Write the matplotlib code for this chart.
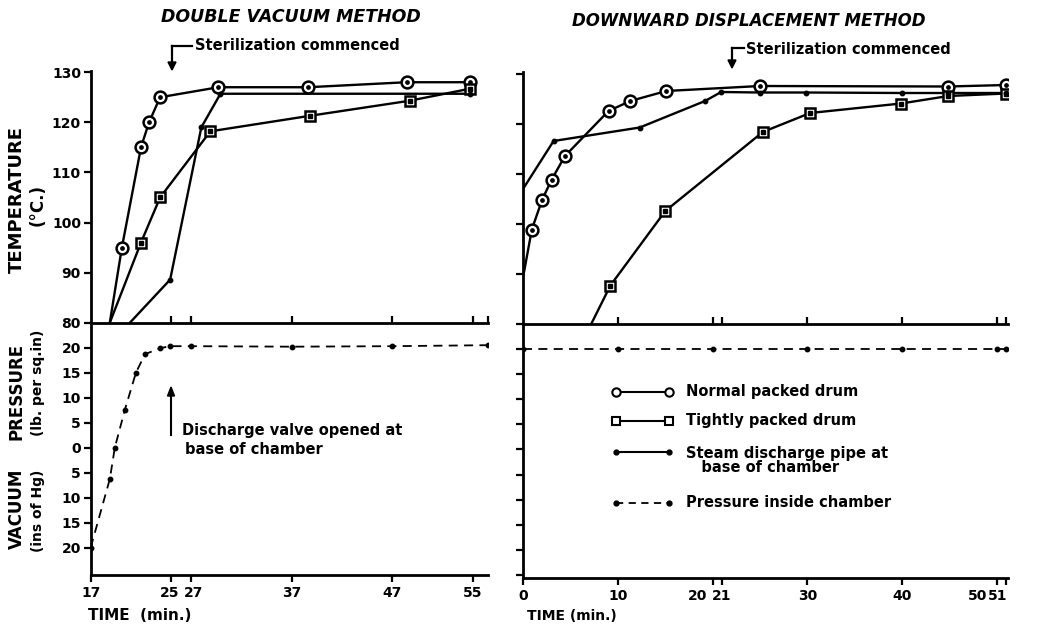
import matplotlib
matplotlib.use("Agg")
import matplotlib.pyplot as plt
from matplotlib.lines import Line2D
import matplotlib.transforms as mtrans

plt.rcParams['font.family'] = ['DejaVu Sans']
plt.rcParams['font.weight'] = 'bold'

W, H = 1049, 634

# ---------------- data ----------------
# Double vacuum method
dv_normal_t = [18.9, 20.1, 22.0, 22.8, 23.9, 29.7, 38.6, 48.4, 54.7]
dv_normal_T = [80, 95, 115, 120, 125, 127, 127, 128, 128]
dv_tight_t = [18.9, 22.0, 23.9, 28.9, 38.8, 48.7, 54.7]
dv_tight_T = [80, 96, 105, 118.2, 121.3, 124.3, 126.7]
dv_steam_t = [20.9, 24.9, 28.0, 29.9, 54.7]
dv_steam_T = [80, 88.6, 119, 125.7, 125.7]
dv_press_t = [17, 18.9, 19.4, 20.4, 21.5, 22.4, 23.9, 24.9, 27, 37, 47, 56.5]
dv_press_P = [-20, -6.3, 0, 7.6, 15, 18.7, 19.9, 20.3, 20.3, 20.2, 20.3, 20.5]

# Downward displacement method
dd_normal_t = [0, 0.9, 2.0, 3.0, 4.4, 9.0, 11.3, 15.1, 25.0, 44.9, 51.0]
dd_normal_T = [89.5, 98.8, 104.8, 108.8, 113.5, 122.5, 124.5, 126.5, 127.5, 127.4, 127.7]
dd_tight_t = [7.2, 9.2, 15.0, 25.3, 30.3, 39.9, 44.9, 51.0]
dd_tight_T = [80, 87.6, 102.5, 118.3, 122.1, 124.0, 125.5, 126.0]
dd_steam_t = [0, 3.2, 12.3, 19.2, 20.9, 25, 29.9, 40, 44.9, 51]
dd_steam_T = [107, 116.5, 119.2, 124.5, 126.3, 126.2, 126.2, 126.1, 126.1, 126.1]
dd_press_t = [0, 10, 20, 30, 40, 50, 51]
dd_press_P = [19.9, 19.9, 19.9, 19.9, 19.9, 19.9, 19.9]

temp_ticks = [80, 90, 100, 110, 120, 130]
press_ticks = [20, 15, 10, 5, 0, -5, -10, -15, -20]
press_labels = ['20', '15', '10', '5', '0', '5', '10', '15', '20']
dv_xticks = [17, 25, 27, 37, 47, 55]
dd_xticks = [0, 10, 20, 21, 30, 40, 50, 51]

titles = ['DOUBLE VACUUM METHOD', 'DOWNWARD DISPLACEMENT METHOD']
legend_labels = ['Normal packed drum', 'Tightly packed drum',
                 'Steam discharge pipe at\n   base of chamber', 'Pressure inside chamber']


def rect(x0, y0, x1, y1):
    return [x0 / W, 1 - y1 / H, (x1 - x0) / W, (y1 - y0) / H]


def P(x, y):
    return (x / W, 1 - y / H)


fig = plt.figure(figsize=(W / 100, H / 100), dpi=100)
fig.patch.set_facecolor('white')

ax_lt = fig.add_axes(rect(90.7, 70.7, 488, 322.7))
ax_lb = fig.add_axes(rect(90.7, 322.7, 488, 575))
ax_rt = fig.add_axes(rect(523.3, 72, 1008, 323.5))
ax_rb = fig.add_axes(rect(523.3, 323.5, 1008, 578))

LW = 1.7
FS = 10


def circ_line(ax, t, v):
    ax.plot(t, v, '-', color='black', lw=LW, zorder=3)
    ax.plot(t[1:], v[1:], 'o', ms=8.5, mfc='white', mec='black', mew=1.8, zorder=4)
    ax.plot(t[1:], v[1:], 'o', ms=2.4, color='black', zorder=5)


def sq_line(ax, t, v):
    ax.plot(t, v, '-', color='black', lw=LW, zorder=3)
    ax.plot(t[1:], v[1:], 's', ms=7.5, mfc='white', mec='black', mew=1.8, zorder=4)
    ax.plot(t[1:], v[1:], 's', ms=2.4, color='black', zorder=5)


def dot_line(ax, t, v):
    ax.plot(t, v, '-', color='black', lw=LW, zorder=3)
    ax.plot(t[1:], v[1:], 'o', ms=3.2, color='black', zorder=4)


# left top
circ_line(ax_lt, dv_normal_t, dv_normal_T)
sq_line(ax_lt, dv_tight_t, dv_tight_T)
dot_line(ax_lt, dv_steam_t, dv_steam_T)
ax_lt.set_xlim(17, 56.5)
ax_lt.set_ylim(80, 130.3)

# right top
circ_line(ax_rt, dd_normal_t, dd_normal_T)
sq_line(ax_rt, dd_tight_t, dd_tight_T)
dot_line(ax_rt, dd_steam_t, dd_steam_T)
ax_rt.set_xlim(0, 51.2)
ax_rt.set_ylim(80, 130.3)

# pressure
ax_lb.plot(dv_press_t, dv_press_P, '--', color='black', lw=1.3, dashes=(5, 3.5),
           marker='o', ms=3.2, zorder=3)
ax_lb.set_xlim(17, 56.5)
ax_lb.set_ylim(-25.5, 25)
ax_rb.plot(dd_press_t, dd_press_P, '--', color='black', lw=1.3, dashes=(5, 3.5),
           marker='o', ms=3.2, zorder=3)
ax_rb.set_xlim(0, 51.2)
ax_rb.set_ylim(-25.5, 25)

for ax in (ax_lt, ax_lb, ax_rt, ax_rb):
    ax.spines['right'].set_visible(False)
    ax.spines['top'].set_visible(False)
    for s in ('left', 'bottom'):
        ax.spines[s].set_linewidth(2.0)
    ax.patch.set_alpha(0)
    ax.tick_params(width=1.6, length=5, labelsize=FS, pad=2)

# y ticks
ax_lt.set_yticks(temp_ticks)
ax_lt.set_yticklabels([str(v) for v in temp_ticks], fontsize=FS, fontweight='bold')
ax_rt.set_yticks(temp_ticks)
ax_rt.set_yticklabels([])
ax_lb.set_yticks(press_ticks)
ax_lb.set_yticklabels(press_labels, fontsize=FS, fontweight='bold')
ax_rb.set_yticks(press_ticks + [-25])
ax_rb.set_yticklabels([])

# x ticks
ax_lt.set_xticks([25, 27, 37, 47, 55, 56.5])
ax_lt.set_xticklabels([])
ax_lt.tick_params(axis='x', direction='in', length=5)
ax_rt.set_xticks([10, 20, 21, 30, 40, 50, 51])
ax_rt.set_xticklabels([])
ax_rt.tick_params(axis='x', direction='in', length=5)
ax_lb.set_xticks(dv_xticks)
ax_lb.set_xticklabels([])
ax_rb.set_xticks(dd_xticks)
ax_rb.set_xticklabels([])

# x tick labels (with small pixel nudges as in the original lettering)
dv_nudge = {25: (-2, 'center'), 27: (2, 'center')}
dd_nudge = {20: (-5, 'right'), 50: (-9, 'right'), 51: (1, 'right')}


def xlabels(ax, ticks, nudge):
    for v in ticks:
        dx, ha = nudge.get(v, (0, 'center'))
        tr = ax.get_xaxis_transform() + mtrans.ScaledTranslation(dx / 100, 0, fig.dpi_scale_trans)
        ax.text(v, -0.045, str(v), transform=tr, ha=ha, va='top', fontsize=FS,
                fontweight='bold')


xlabels(ax_lb, dv_xticks, dv_nudge)
xlabels(ax_rb, dd_xticks, dd_nudge)

# titles
fig.text(*P(291, 17), titles[0], ha='center', va='center', fontsize=12.5,
         fontstyle='italic', fontweight='bold')
fig.text(*P(749, 21), titles[1], ha='center', va='center', fontsize=12,
         fontstyle='italic', fontweight='bold')

# axis labels
fig.text(*P(17, 199), 'TEMPERATURE', rotation=90, ha='center', va='center', fontsize=13)
fig.text(*P(38, 205), '(°C.)', rotation=90, ha='center', va='center', fontsize=12)
fig.text(*P(17, 391), 'PRESSURE', rotation=90, ha='center', va='center', fontsize=12)
fig.text(*P(38, 383), '(lb. per sq.in)', rotation=90, ha='center', va='center', fontsize=10)
fig.text(*P(17, 509), 'VACUUM', rotation=90, ha='center', va='center', fontsize=12)
fig.text(*P(38, 511), '(ins of Hg)', rotation=90, ha='center', va='center', fontsize=10)
fig.text(*P(88, 616), 'TIME  (min.)', ha='left', va='center', fontsize=11)
fig.text(*P(527, 616), 'TIME (min.)', ha='left', va='center', fontsize=10)


# sterilization annotations
def bracket_arrow(x_text, y_line, x_arrow, y_end):
    fig.add_artist(Line2D([P(x_text, 0)[0], P(x_arrow, 0)[0]],
                          [P(0, y_line)[1], P(0, y_line)[1]],
                          transform=fig.transFigure, color='black', lw=1.6))
    fig.add_artist(Line2D([P(x_arrow, 0)[0], P(x_arrow, 0)[0]],
                          [P(0, y_line)[1], P(0, y_end - 6)[1]],
                          transform=fig.transFigure, color='black', lw=1.6))
    fig.patches.append(plt.Polygon([P(x_arrow - 4, y_end - 8), P(x_arrow + 4, y_end - 8),
                                    P(x_arrow, y_end)], closed=True, color='black',
                                   transform=fig.transFigure, figure=fig))


bracket_arrow(192, 46, 172, 70)
fig.text(*P(195, 46), 'Sterilization commenced', ha='left', va='center', fontsize=10.5)
bracket_arrow(744, 48, 732, 68)
fig.text(*P(746, 49), 'Sterilization commenced', ha='left', va='center', fontsize=10.5)

# discharge valve annotation
fig.add_artist(Line2D([P(171, 0)[0]] * 2, [P(0, 435)[1], P(0, 394)[1]],
                      transform=fig.transFigure, color='black', lw=1.5))
fig.patches.append(plt.Polygon([P(167.5, 396), P(174.5, 396), P(171, 387)], closed=True,
                               color='black', transform=fig.transFigure, figure=fig))
fig.text(*P(182, 430), 'Discharge valve opened at', ha='left', va='center', fontsize=10.5)
fig.text(*P(185, 449), 'base of chamber', ha='left', va='center', fontsize=10.5)

# legend (drawn in figure pixels)
leg_rows = [391.5, 420.5, 451.5, 502.5]
x0, x1 = 616, 669
for i, y in enumerate(leg_rows):
    yy = P(0, y)[1]
    if i == 0:
        fig.add_artist(Line2D([x0 / W, x1 / W], [yy, yy], transform=fig.transFigure,
                              color='black', lw=1.5, marker='o', ms=6, mfc='white', mew=1.5))
    elif i == 1:
        fig.add_artist(Line2D([x0 / W, x1 / W], [yy, yy], transform=fig.transFigure,
                              color='black', lw=1.5, marker='s', ms=6, mfc='white', mew=1.5))
    elif i == 2:
        fig.add_artist(Line2D([x0 / W, x1 / W], [yy, yy], transform=fig.transFigure,
                              color='black', lw=1.5, marker='o', ms=3.5))
    else:
        fig.add_artist(Line2D([x0 / W, x1 / W], [yy, yy], transform=fig.transFigure,
                              color='black', lw=1.3, ls='--', dashes=(4, 3), marker='o', ms=3.5))
    if i == 2:
        fig.text(*P(686, y + 9), legend_labels[i], ha='left', va='center', fontsize=10.5,
                 linespacing=0.95)
    else:
        fig.text(*P(686, y), legend_labels[i], ha='left', va='center', fontsize=10.5)

fig.savefig('out.png', dpi=100, facecolor='white')
